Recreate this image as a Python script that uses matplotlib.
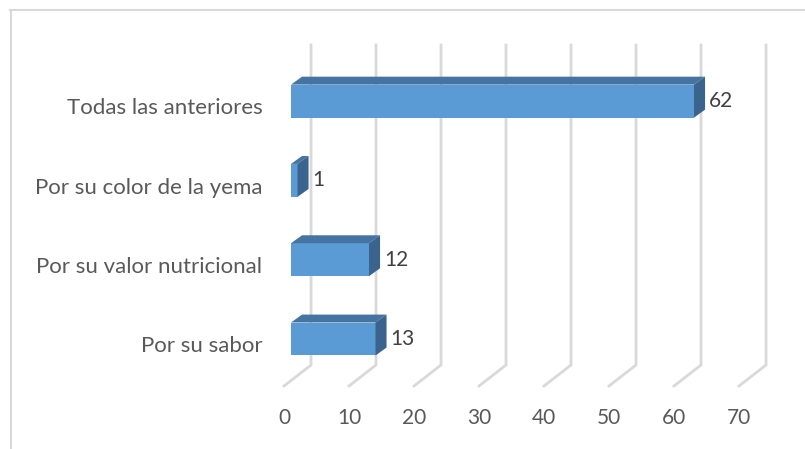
import matplotlib.pyplot as plt
from matplotlib.patches import Polygon

# data (bottom to top)
categories = ['Por su sabor', 'Por su valor nutricional', 'Por su color de la yema', 'Todas las anteriores']
values = [13, 12, 1, 62]
ticks = [0, 10, 20, 30, 40, 50, 60, 70]

front_col = '#5b9bd5'
top_col = '#4674a2'
side_col = '#3a648e'
grid_col = '#d9d9d9'
txt_col = '#595959'

plt.rcParams['font.family'] = ['Lato', 'DejaVu Sans']

fig = plt.figure(figsize=(8.05, 4.49), dpi=100)
ax = fig.add_axes([0, 0, 1, 1])
ax.set_axis_off()
# 1 value unit = 6.5 px, 1 category step = 79.3 px
ax.set_xlim(-291 / 6.5, (805 - 291) / 6.5)
ax.set_ylim((339 - 449) / 79.3, 339 / 79.3)

# depth offsets in data units
bar_dx, bar_dy = 1.7, 0.10
wall_dx = 3.08
floor_dx = -1.08
wall_top, wall_bot, floor_front = 3.707, -0.328, -0.593
h = 0.416

# back wall gridlines + floor lines
for t in ticks:
    ax.plot([t + wall_dx, t + wall_dx, t + floor_dx],
            [wall_top, wall_bot, floor_front],
            color=grid_col, lw=2, zorder=1, solid_joinstyle='miter')
    ax.text(t + floor_dx, -0.995, str(t), ha='center', va='center',
            fontsize=15, color=txt_col)

ypos = list(range(len(categories)))
ax.barh(ypos, values, height=h, left=0, color=front_col, zorder=3)
for y, v, name in zip(ypos, values, categories):
    top = y + h / 2
    bot = y - h / 2
    ax.add_patch(Polygon([(0, top), (v, top), (v + bar_dx, top + bar_dy),
                          (bar_dx, top + bar_dy)], closed=True,
                         facecolor=top_col, edgecolor='none', zorder=3))
    ax.add_patch(Polygon([(v, bot), (v, top), (v + bar_dx, top + bar_dy),
                          (v + bar_dx, bot + bar_dy)], closed=True,
                         facecolor=side_col, edgecolor='none', zorder=3))
    ax.text(v + 2.3, y, str(v), ha='left', va='center', fontsize=15,
            color='#404040')
    ax.text(-4.4, y - 0.09, name, ha='right', va='center', fontsize=16,
            color=txt_col)

# chart frame (left and top edges)
fig.add_artist(plt.Line2D([10.5 / 805, 10.5 / 805], [0, 1 - 10 / 449],
                          color=grid_col, lw=1.5))
fig.add_artist(plt.Line2D([10 / 805, 1], [1 - 10 / 449, 1 - 10 / 449],
                          color=grid_col, lw=1.5))

fig.savefig('out.png', dpi=100)
